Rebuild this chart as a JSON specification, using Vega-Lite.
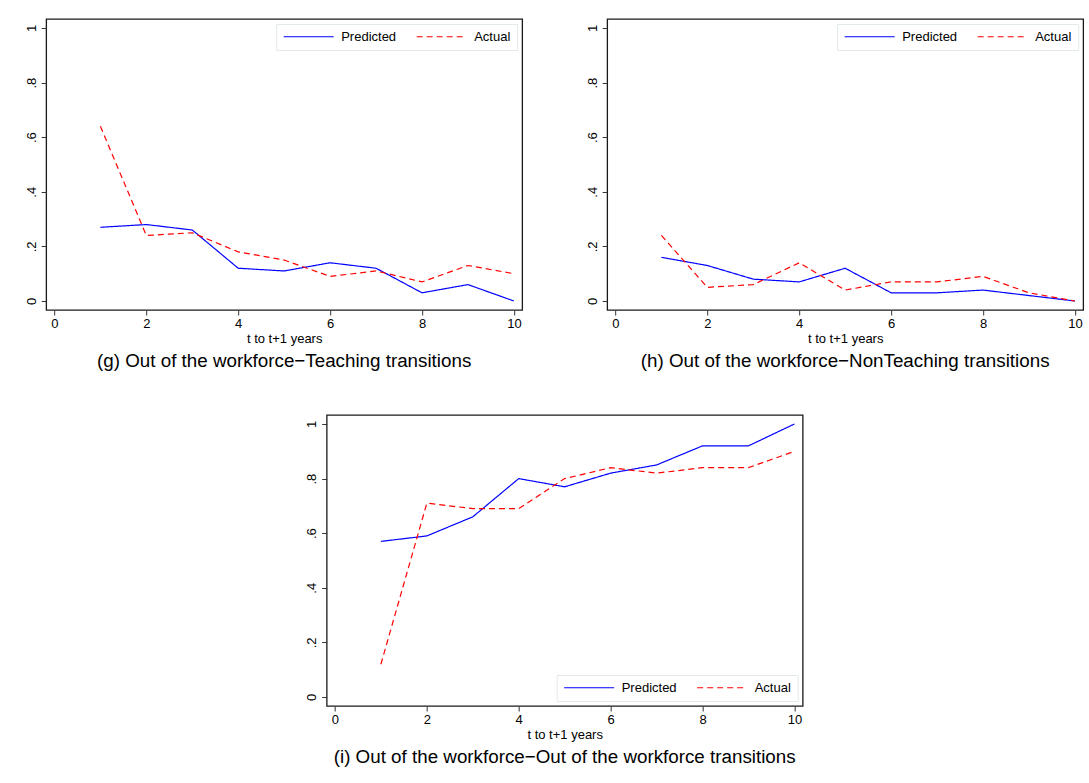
{
  "$schema": "https://vega.github.io/schema/vega-lite/v6.json",
  "padding": {"left": 24, "top": 18, "right": 4, "bottom": 4},
  "background": "white",
  "datasets": {
    "rates": [
      {"panel": "g", "t": 1, "series": "Predicted", "value": 0.27},
      {"panel": "g", "t": 2, "series": "Predicted", "value": 0.28},
      {"panel": "g", "t": 3, "series": "Predicted", "value": 0.26},
      {"panel": "g", "t": 4, "series": "Predicted", "value": 0.12},
      {"panel": "g", "t": 5, "series": "Predicted", "value": 0.11},
      {"panel": "g", "t": 6, "series": "Predicted", "value": 0.14},
      {"panel": "g", "t": 7, "series": "Predicted", "value": 0.12},
      {"panel": "g", "t": 8, "series": "Predicted", "value": 0.03},
      {"panel": "g", "t": 9, "series": "Predicted", "value": 0.06},
      {"panel": "g", "t": 10, "series": "Predicted", "value": 0.0},
      {"panel": "g", "t": 1, "series": "Actual", "value": 0.64},
      {"panel": "g", "t": 2, "series": "Actual", "value": 0.24},
      {"panel": "g", "t": 3, "series": "Actual", "value": 0.25},
      {"panel": "g", "t": 4, "series": "Actual", "value": 0.18},
      {"panel": "g", "t": 5, "series": "Actual", "value": 0.15},
      {"panel": "g", "t": 6, "series": "Actual", "value": 0.09},
      {"panel": "g", "t": 7, "series": "Actual", "value": 0.11},
      {"panel": "g", "t": 8, "series": "Actual", "value": 0.07},
      {"panel": "g", "t": 9, "series": "Actual", "value": 0.13},
      {"panel": "g", "t": 10, "series": "Actual", "value": 0.10},
      {"panel": "h", "t": 1, "series": "Predicted", "value": 0.16},
      {"panel": "h", "t": 2, "series": "Predicted", "value": 0.13},
      {"panel": "h", "t": 3, "series": "Predicted", "value": 0.08},
      {"panel": "h", "t": 4, "series": "Predicted", "value": 0.07},
      {"panel": "h", "t": 5, "series": "Predicted", "value": 0.12},
      {"panel": "h", "t": 6, "series": "Predicted", "value": 0.03},
      {"panel": "h", "t": 7, "series": "Predicted", "value": 0.03},
      {"panel": "h", "t": 8, "series": "Predicted", "value": 0.04},
      {"panel": "h", "t": 9, "series": "Predicted", "value": 0.02},
      {"panel": "h", "t": 10, "series": "Predicted", "value": 0.0},
      {"panel": "h", "t": 1, "series": "Actual", "value": 0.24},
      {"panel": "h", "t": 2, "series": "Actual", "value": 0.05},
      {"panel": "h", "t": 3, "series": "Actual", "value": 0.06},
      {"panel": "h", "t": 4, "series": "Actual", "value": 0.14},
      {"panel": "h", "t": 5, "series": "Actual", "value": 0.04},
      {"panel": "h", "t": 6, "series": "Actual", "value": 0.07},
      {"panel": "h", "t": 7, "series": "Actual", "value": 0.07},
      {"panel": "h", "t": 8, "series": "Actual", "value": 0.09},
      {"panel": "h", "t": 9, "series": "Actual", "value": 0.03},
      {"panel": "h", "t": 10, "series": "Actual", "value": 0.0},
      {"panel": "i", "t": 1, "series": "Predicted", "value": 0.57},
      {"panel": "i", "t": 2, "series": "Predicted", "value": 0.59},
      {"panel": "i", "t": 3, "series": "Predicted", "value": 0.66},
      {"panel": "i", "t": 4, "series": "Predicted", "value": 0.80},
      {"panel": "i", "t": 5, "series": "Predicted", "value": 0.77},
      {"panel": "i", "t": 6, "series": "Predicted", "value": 0.82},
      {"panel": "i", "t": 7, "series": "Predicted", "value": 0.85},
      {"panel": "i", "t": 8, "series": "Predicted", "value": 0.92},
      {"panel": "i", "t": 9, "series": "Predicted", "value": 0.92},
      {"panel": "i", "t": 10, "series": "Predicted", "value": 1.0},
      {"panel": "i", "t": 1, "series": "Actual", "value": 0.12},
      {"panel": "i", "t": 2, "series": "Actual", "value": 0.71},
      {"panel": "i", "t": 3, "series": "Actual", "value": 0.69},
      {"panel": "i", "t": 4, "series": "Actual", "value": 0.69},
      {"panel": "i", "t": 5, "series": "Actual", "value": 0.80},
      {"panel": "i", "t": 6, "series": "Actual", "value": 0.84},
      {"panel": "i", "t": 7, "series": "Actual", "value": 0.82},
      {"panel": "i", "t": 8, "series": "Actual", "value": 0.84},
      {"panel": "i", "t": 9, "series": "Actual", "value": 0.84},
      {"panel": "i", "t": 10, "series": "Actual", "value": 0.90}
    ]
  },
  "center": true,
  "spacing": 42,
  "vconcat": [
    {
      "spacing": 62,
      "hconcat": [
        {
          "width": 476,
          "height": 291,
          "data": {"name": "rates"},
          "transform": [{"filter": "datum.panel === 'g'"}],
          "title": {"text": "(g) Out of the workforce\u2212Teaching transitions"},
          "mark": {"type": "line", "strokeWidth": 1.2},
          "encoding": {
            "x": {"field": "t", "type": "quantitative", "title": "t to t+1 years",
                  "scale": {"domain": [-0.18, 10.18], "nice": false, "zero": false},
                  "axis": {"values": [0, 2, 4, 6, 8, 10]}},
            "y": {"field": "value", "type": "quantitative", "title": null,
                  "scale": {"domain": [-0.033, 1.033], "nice": false, "zero": false},
                  "axis": {"values": [0, 0.2, 0.4, 0.6, 0.8, 1]}},
            "color": {"field": "series", "type": "nominal",
                      "scale": {"domain": ["Predicted", "Actual"], "range": ["#0000ff", "#ff0000"]},
                      "legend": {"orient": "top-right"}},
            "strokeDash": {"field": "series", "type": "nominal",
                           "scale": {"domain": ["Predicted", "Actual"], "range": [[1, 0], [6, 4]]},
                           "legend": {"orient": "top-right"}}
          }
        },
        {
          "width": 476,
          "height": 291,
          "data": {"name": "rates"},
          "transform": [{"filter": "datum.panel === 'h'"}],
          "title": {"text": "(h) Out of the workforce\u2212NonTeaching transitions"},
          "mark": {"type": "line", "strokeWidth": 1.2},
          "encoding": {
            "x": {"field": "t", "type": "quantitative", "title": "t to t+1 years",
                  "scale": {"domain": [-0.18, 10.18], "nice": false, "zero": false},
                  "axis": {"values": [0, 2, 4, 6, 8, 10]}},
            "y": {"field": "value", "type": "quantitative", "title": null,
                  "scale": {"domain": [-0.033, 1.033], "nice": false, "zero": false},
                  "axis": {"values": [0, 0.2, 0.4, 0.6, 0.8, 1]}},
            "color": {"field": "series", "type": "nominal",
                      "scale": {"domain": ["Predicted", "Actual"], "range": ["#0000ff", "#ff0000"]},
                      "legend": {"orient": "top-right"}},
            "strokeDash": {"field": "series", "type": "nominal",
                           "scale": {"domain": ["Predicted", "Actual"], "range": [[1, 0], [6, 4]]},
                           "legend": {"orient": "top-right"}}
          }
        }
      ],
      "resolve": {"scale": {"color": "independent", "strokeDash": "independent", "x": "independent", "y": "independent"}, "legend": {"color": "independent", "strokeDash": "independent"}}
    },
    {
      "width": 476,
      "height": 291,
      "data": {"name": "rates"},
      "transform": [{"filter": "datum.panel === 'i'"}],
      "title": {"text": "(i) Out of the workforce\u2212Out of the workforce transitions"},
      "mark": {"type": "line", "strokeWidth": 1.2},
      "encoding": {
        "x": {"field": "t", "type": "quantitative", "title": "t to t+1 years",
              "scale": {"domain": [-0.18, 10.18], "nice": false, "zero": false},
              "axis": {"values": [0, 2, 4, 6, 8, 10]}},
        "y": {"field": "value", "type": "quantitative", "title": null,
              "scale": {"domain": [-0.033, 1.033], "nice": false, "zero": false},
              "axis": {"values": [0, 0.2, 0.4, 0.6, 0.8, 1]}},
        "color": {"field": "series", "type": "nominal",
                  "scale": {"domain": ["Predicted", "Actual"], "range": ["#0000ff", "#ff0000"]},
                  "legend": {"orient": "bottom-right"}},
        "strokeDash": {"field": "series", "type": "nominal",
                       "scale": {"domain": ["Predicted", "Actual"], "range": [[1, 0], [6, 4]]},
                       "legend": {"orient": "bottom-right"}}
      }
    }
  ],
  "resolve": {"scale": {"color": "independent", "strokeDash": "independent", "x": "independent", "y": "independent"}, "legend": {"color": "independent", "strokeDash": "independent"}},
  "config": {
    "font": "Liberation Sans",
    "view": {"stroke": "#1a1a1a", "strokeWidth": 1.3, "fill": "white"},
    "title": {"orient": "bottom", "fontSize": 18.8, "fontWeight": "normal", "color": "#000000", "offset": 7, "anchor": "middle"},
    "axis": {
      "grid": false,
      "domain": false,
      "tickColor": "#333333",
      "tickSize": 5,
      "tickWidth": 1,
      "labelFontSize": 13,
      "labelColor": "#000000",
      "titleFontSize": 13,
      "titleFontWeight": "normal",
      "titleColor": "#000000"
    },
    "axisX": {"labelPadding": 2, "titlePadding": 2, "labelFlush": false},
    "axisY": {
      "labelAngle": 270,
      "labelAlign": "center",
      "labelBaseline": "alphabetic",
      "labelPadding": 6,
      "labelFlush": false,
      "labelExpr": "datum.value == 0 ? '0' : datum.value == 1 ? '1' : replace(format(datum.value, '.1f'), '0.', '.')"
    },
    "legend": {
      "title": null,
      "direction": "horizontal",
      "offset": 5,
      "padding": 6,
      "symbolType": "M-5,0H5",
      "symbolSize": 100,
      "symbolOffset": 20,
      "symbolStrokeWidth": 1.2,
      "labelFontSize": 13,
      "labelColor": "#000000",
      "labelOffset": 26,
      "labelLimit": 0,
      "columnPadding": 18,
      "strokeColor": "#e2eaec",
      "fillColor": "#ffffff",
      "cornerRadius": 0
    }
  }
}
